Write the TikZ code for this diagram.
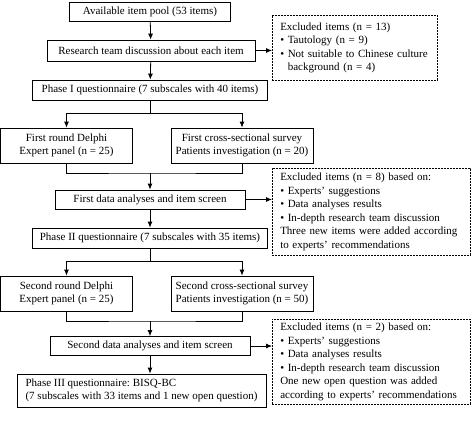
\documentclass[tikz,border=0pt]{standalone}
\usepackage{fontspec}
\setmainfont{Liberation Serif}
\usetikzlibrary{arrows.meta}

\tikzset{
	box/.style={draw, line width=0.8pt, align=center, inner sep=0pt,
		font=\fontsize{11}{13.3}\selectfont},
	exbox/.style={draw, dashed, dash pattern=on 2pt off 1pt, line width=0.5pt,
		anchor=north west, align=left, inner xsep=8pt, inner ysep=0pt,
		font=\fontsize{11}{13.5}\selectfont},
	arr/.style={-{Latex[length=6pt,width=5pt]}, line width=0.8pt},
	link/.style={line width=0.7pt},
}

\begin{document}
\frenchspacing
\begin{tikzpicture}[x=1pt, y=-1pt]
		\useasboundingbox (0,0) rectangle (473,425);

		\node[box, minimum width=161, minimum height=19] (pool)     at (150,11.5)  {Available item pool (53 items)};
		\node[box, minimum width=208, minimum height=21] (discuss)  at (151,50.5)  {Research team discussion about each item};
		\node[box, minimum width=235, minimum height=20] (phaseI)   at (150,90)    {Phase I questionnaire (7 subscales with 40 items)};
		\node[box, minimum width=132, minimum height=35] (delphiA)  at (66.5,145.5) {First round Delphi\\Expert panel (n = 25)};
		\node[box, minimum width=142, minimum height=35] (surveyA)  at (242,145.5) {First cross-sectional survey\\Patients investigation (n = 20)};
		\node[box, minimum width=190, minimum height=19] (screenA)  at (150,199.5) {First data analyses and item screen};
		\node[box, minimum width=235, minimum height=20] (phaseII)  at (150,238)   {Phase II questionnaire (7 subscales with 35 items)};
		\node[box, minimum width=132, minimum height=35] (delphiB)  at (66.5,293.5) {Second round Delphi\\Expert panel (n = 25)};
		\node[box, minimum width=142, minimum height=35] (surveyB)  at (242,293.5) {Second cross-sectional survey\\Patients investigation (n = 50)};
		\node[box, minimum width=200, minimum height=19] (screenB)  at (150,346)   {Second data analyses and item screen};
		\node[box, align=left, minimum width=249, minimum height=33] (phaseIII) at (141.5,390.5)
			{Phase III questionnaire: BISQ-BC\\(7 subscales with 33 items and 1 new open question)};

		\node[exbox, text width=149, minimum height=65] (exA) at (272,15)
			{Excluded items (n = 13)\\
			\textbullet\ Tautology (n = 9)\\
			\textbullet\ Not suitable to Chinese culture\\
			\hphantom{\textbullet\ }background (n = 4)};
		\node[exbox, text width=182, minimum height=87] (exB) at (272,168)
			{Excluded items (n = 8) based on:\\
			\textbullet\ Experts' suggestions\\
			\textbullet\ Data analyses results\\
			\textbullet\ In-depth research team discussion\\
			Three new items were added according\\
			to experts' recommendations};
		\node[exbox, text width=182, minimum height=85] (exC) at (272,319)
			{Excluded items (n = 2) based on:\\
			\textbullet\ Experts' suggestions\\
			\textbullet\ Data analyses results\\
			\textbullet\ In-depth research team discussion\\
			One new open question was added\\
			according to experts' recommendations};

		\coordinate (splitA) at (150,113);
		\coordinate (mergeA) at (150,173);
		\coordinate (splitB) at (150,261);
		\coordinate (mergeB) at (150,321);

		\draw[arr] (pool) -- (discuss);
		\draw[arr] (discuss) -- (phaseI);
		\draw[arr] (discuss.east) -- (discuss.east -| exA.west);

		\draw[link] (phaseI) -- (splitA);
		\draw[arr] (splitA) -| (delphiA);
		\draw[arr] (splitA) -| (surveyA);
		\draw[link] (delphiA) |- (mergeA) -| (surveyA);
		\draw[arr] (mergeA) -- (screenA);
		\draw[arr] (screenA.east) -- (screenA.east -| exB.west);
		\draw[arr] (screenA) -- (phaseII);

		\draw[link] (phaseII) -- (splitB);
		\draw[arr] (splitB) -| (delphiB);
		\draw[arr] (splitB) -| (surveyB);
		\draw[link] (delphiB) |- (mergeB) -| (surveyB);
		\draw[arr] (mergeB) -- (screenB);
		\draw[arr] (screenB.east) -- (screenB.east -| exC.west);
		\draw[arr] (screenB) -- (phaseIII.north -| screenB);
	\end{tikzpicture}
\end{document}
